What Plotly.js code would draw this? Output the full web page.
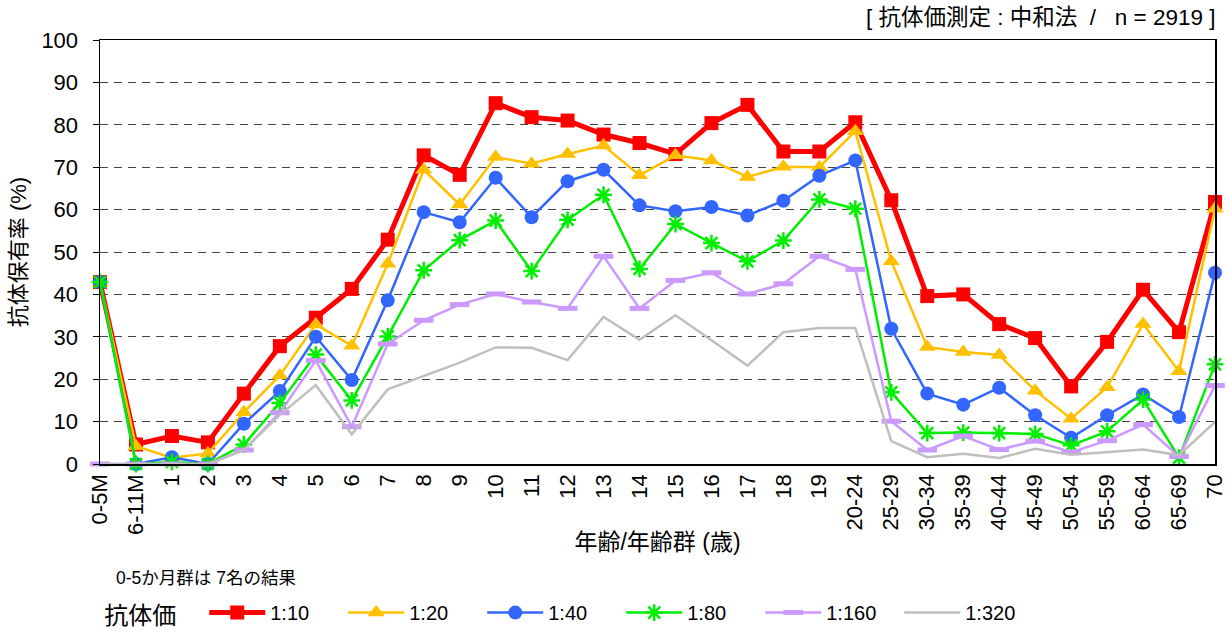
<!DOCTYPE html>
<html><head><meta charset="utf-8">
<script src="https://cdn.plot.ly/plotly-3.0.1.min.js"></script>
<style>html,body{margin:0;padding:0;background:#fff}#chart{width:1231px;height:637px}</style>
</head><body><div id="chart"></div>
<script>
const categories = ['0-5M','6-11M','1','2','3','4','5','6','7','8','9','10','11','12','13','14','15','16','17','18','19','20-24','25-29','30-34','35-39','40-44','45-49','50-54','55-59','60-64','65-69','70'];
const seriesNames = ['1:10','1:20','1:40','1:80','1:160','1:320'];
const t10  = [42.9,4.6,6.6,5.1,16.6,27.8,34.5,41.3,52.9,72.8,68.2,85.1,81.8,81.0,77.7,75.7,73.1,80.4,84.7,73.7,73.7,80.6,62.2,39.6,40.0,33.0,29.7,18.3,28.8,41.1,31.1,61.8];
const t20  = [42.9,4.2,1.5,2.5,12.2,20.9,32.9,27.9,47.2,69.4,61.2,72.4,70.8,73.1,75.1,68.1,72.8,71.6,67.7,70.1,70.0,78.5,47.8,27.6,26.4,25.7,17.3,10.7,18.1,33.0,21.9,60.2];
const t40  = [42.9,0,1.6,0,9.5,17.2,30.0,19.8,38.6,59.4,57.0,67.5,58.2,66.7,69.4,61.0,59.6,60.6,58.6,62.1,68.0,71.6,31.9,16.6,14.0,18.0,11.5,6.2,11.5,16.4,11.1,45.1];
const t80  = [42.9,0,0.5,0,4.6,14.4,25.8,15.0,30.1,45.7,52.8,57.4,45.5,57.6,63.5,46.0,56.6,52.1,47.8,52.7,62.4,60.2,16.9,7.3,7.4,7.3,7.1,4.4,7.7,15.2,1.5,23.5];
const t160 = [0,0,0,0,3.3,12.1,24.4,8.8,28.3,33.9,37.6,40.1,38.2,36.7,49.0,36.7,43.3,45.1,40.1,42.5,49.0,45.9,10.1,3.3,6.6,3.4,5.4,2.8,5.5,9.3,1.8,18.5];
const t320 = [0,0,0,0,3.3,11.6,18.6,7.0,17.6,20.7,23.9,27.5,27.4,24.5,34.7,29.3,35.1,29.2,23.2,31.1,32.1,32.1,5.4,1.6,2.4,1.4,3.6,2.2,2.8,3.4,2.1,9.9];

const FONT = 'Liberation Sans, Arial, Noto Sans CJK JP, sans-serif';
const traces = [
  {y:t10, name:seriesNames[0], line:{color:'#FF0000',width:5}, marker:{symbol:'square',size:14,color:'#FF0000'}},
  {y:t20, name:seriesNames[1], line:{color:'#FFC000',width:2.5}, marker:{symbol:'triangle-up',size:15,color:'#FFC000'}},
  {y:t40, name:seriesNames[2], line:{color:'#3366FF',width:2.5}, marker:{symbol:'circle',size:14,color:'#3366FF'}},
  {y:t80, name:seriesNames[3], line:{color:'#00EE00',width:2.5}, marker:{symbol:'asterisk-open',size:14,color:'#00EE00',line:{color:'#00EE00',width:2.5}}},
  {y:t160, name:seriesNames[4], line:{color:'#CC99FF',width:2.5}, marker:{symbol:'line-ew-open',size:14,color:'#CC99FF',line:{color:'#CC99FF',width:5}}},
  {y:t320, name:seriesNames[5], line:{color:'#BFBFBF',width:2.5}, mode:'lines'}
].map(t => Object.assign({x:categories, type:'scatter', mode:'lines+markers', cliponaxis:false}, t));

const NB = '\u00A0';
const layout = {
  width:1231, height:637,
  margin:{l:100, r:16, t:40, b:172.5},
  paper_bgcolor:'#fff', plot_bgcolor:'#fff',
  font:{family:FONT, size:20, color:'#000'},
  showlegend:true,
  legend:{orientation:'h', xref:'paper', x:0.002, xanchor:'left', yref:'container', y:0.003, yanchor:'bottom',
          font:{family:FONT,size:20}, title:{text:'抗体価   ', font:{family:FONT,size:24}, side:'left'},
          entrywidth:68, itemwidth:56, traceorder:'normal'},
  xaxis:{type:'category', range:[0,31], tickangle:-90, tickfont:{family:FONT,size:22},
         showgrid:false, showline:true, linecolor:'#000', linewidth:1.5, mirror:true,
         ticks:'', automargin:false,
         title:{text:'年齢/年齢群 (歳)', font:{family:FONT,size:23}, standoff:0}},
  yaxis:{range:[0,100], dtick:10, tickfont:{family:FONT,size:22},
         showgrid:true, gridcolor:'#444', griddash:'8px,6px', gridwidth:1,
         showline:true, linecolor:'#000', linewidth:1.5, mirror:true,
         ticks:'outside', ticklen:6, tickcolor:'#000', ticklabelstandoff:10, zeroline:false, automargin:false,
         title:{text:'抗体保有率 (%)', font:{family:FONT,size:22}, standoff:8}},
  annotations:[
    {xref:'paper', yref:'paper', x:1.002, y:1.053, xanchor:'right', yanchor:'middle', showarrow:false,
     text:'['+NB+'抗体価測定'+NB+':'+NB+'中和法'+NB+NB+'/'+NB+NB+NB+'n'+NB+'='+NB+'2919'+NB+']', font:{family:FONT,size:22.5}},
    {xref:'paper', yref:'paper', x:0.013, y:-0.27, xanchor:'left', yanchor:'middle', showarrow:false,
     text:'0-5か月群は 7名の結果', font:{family:FONT,size:17.5}}
  ]
};
Plotly.newPlot('chart', traces, layout, {displayModeBar:false, staticPlot:true});
</script></body></html>
